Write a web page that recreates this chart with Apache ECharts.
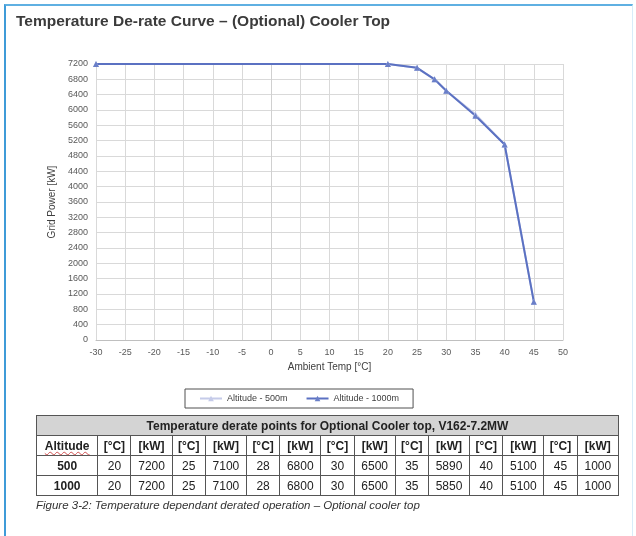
<!DOCTYPE html>
<html>
<head>
<meta charset="utf-8">
<script src="https://cdn.jsdelivr.net/npm/echarts@6/dist/echarts.min.js"></script>
<style>
  html, body { margin: 0; padding: 0; background: #fff; }
  #wrap { position: relative; width: 636px; height: 536px; overflow: hidden; font-family: "Liberation Sans", Arial, sans-serif; }
  #frame { position: absolute; left: 4px; top: 4px; width: 626px; height: 540px; border-left: 2px solid #3f9bd8; border-top: 2px solid #5fb0e2; border-right: 1px solid #d8ecf9; }
  #chart { position: absolute; left: 0; top: 0; width: 636px; height: 536px; }
  #derate { position: absolute; left: 36px; top: 415px; width: 583px; border-collapse: collapse; font-size: 12px; color: #222; }
  #derate td, #derate th { border: 1px solid #555; padding: 0 2px; height: 19px; text-align: center; }
  #derate th.title { background: #d4d4d4; font-weight: bold; font-size: 12px; }
  #derate tr.head th { font-weight: bold; }
  #derate .alt { text-decoration: underline wavy #d05050; text-decoration-thickness: 1px; }
  #caption { position: absolute; left: 36px; top: 499px; font-size: 11.5px; font-style: italic; color: #333; }
</style>
</head>
<body>
<div id="wrap">
  <div id="frame"></div>
  <div id="chart"></div>
  <table id="derate"></table>
  <div id="caption">Figure 3-2: Temperature dependant derated operation – Optional cooler top</div>
</div>
<script>
const temps = [-30, 20, 25, 28, 30, 35, 40, 45];
const power500 = [7200, 7200, 7100, 6800, 6500, 5890, 5100, 1000];
const power1000 = [7200, 7200, 7100, 6800, 6500, 5850, 5100, 1000];
const altitudes = ["500", "1000"];
const seriesNames = ["Altitude - 500m", "Altitude - 1000m"];

const toPoints = (values) => temps.map((t, i) => [t, values[i]]);

const labelColor = "#595959";
const gridColor = "#d9d9d9";

const chart = echarts.init(document.getElementById("chart"));

chart.setOption({
  backgroundColor: "transparent",
  animation: false,
  textStyle: { fontFamily: "Liberation Sans, Arial, sans-serif" },
  title: {
    text: "Temperature De-rate Curve – (Optional) Cooler Top",
    left: 11,
    top: 9,
    textStyle: { fontSize: 15.5, fontWeight: "bold", color: "#3b3b3b" },
  },
  legend: {
    left: 185,
    top: 389,
    width: 243,
    height: 20,
    padding: [5, 14, 5, 14],
    itemGap: 18,
    itemWidth: 22,
    itemHeight: 7,
    borderColor: "#505050",
    borderWidth: 1,
    borderRadius: 0,
    textStyle: { fontSize: 9, color: "#404040" },
    data: seriesNames,
  },
  grid: {
    left: 96,
    right: 73,
    top: 64,
    bottom: 196,
    containLabel: false,
  },
  xAxis: {
    type: "value",
    min: -30,
    max: 50,
    interval: 5,
    name: "Ambient Temp [°C]",
    nameLocation: "middle",
    nameGap: 21,
    nameTextStyle: { fontSize: 10, color: "#404040" },
    axisLine: { lineStyle: { color: "#bfbfbf" } },
    axisTick: { show: false },
    axisLabel: { fontSize: 9, color: labelColor, margin: 8 },
    splitLine: { lineStyle: { color: gridColor } },
  },
  yAxis: {
    type: "value",
    min: 0,
    max: 7200,
    interval: 400,
    name: "Grid Power [kW]",
    nameLocation: "middle",
    nameGap: 35,
    nameTextStyle: { fontSize: 10, color: "#404040" },
    axisLine: { show: true, lineStyle: { color: "#d0d0d0" } },
    axisTick: { show: false },
    axisLabel: { fontSize: 9, color: labelColor, margin: 8, formatter: (v) => String(v) },
    splitLine: { lineStyle: { color: gridColor } },
  },
  series: [
    {
      name: seriesNames[0],
      type: "line",
      data: toPoints(power500),
      symbol: "triangle",
      symbolSize: 6,
      itemStyle: { color: "#c5cbe9" },
      lineStyle: { width: 2, color: "#c5cbe9" },
    },
    {
      name: seriesNames[1],
      type: "line",
      data: toPoints(power1000),
      symbol: "triangle",
      symbolSize: 6,
      itemStyle: { color: "#6a7fc8" },
      lineStyle: { width: 2, color: "#5b71c2" },
    },
  ],
});

// table of derate points, built from the same arrays (skipping the -30 start point)
const table = document.getElementById("derate");
const tablePoints = temps.slice(1);
let html = '<tr><th class="title" colspan="' + (1 + tablePoints.length * 2) + '">Temperature derate points for Optional Cooler top, V162-7.2MW</th></tr>';
html += '<tr class="head"><th style="width:56px"><span class="alt">Altitude</span></th>';
tablePoints.forEach(() => {
  html += '<th style="width:28px">[°C]</th><th style="width:36px">[kW]</th>';
});
html += "</tr>";
[power500, power1000].forEach((values, r) => {
  html += '<tr><td style="font-weight:bold">' + altitudes[r] + "</td>";
  tablePoints.forEach((t, i) => {
    html += "<td>" + t + "</td><td>" + values[i + 1] + "</td>";
  });
  html += "</tr>";
});
table.innerHTML = html;
</script>
</body>
</html>
